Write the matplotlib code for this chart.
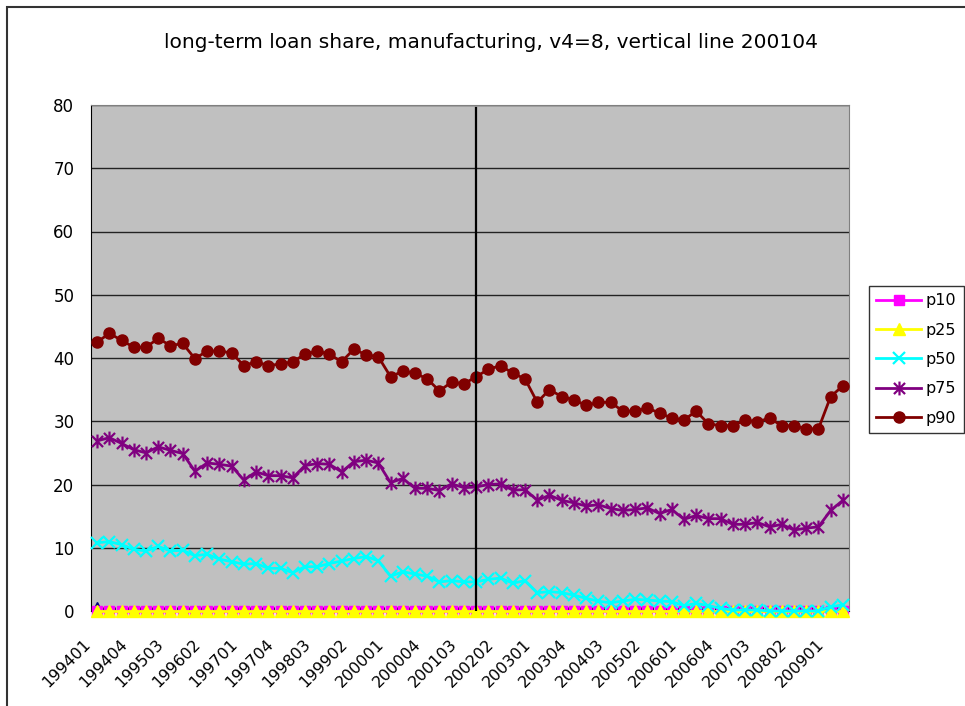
import matplotlib
matplotlib.use("Agg")
import matplotlib.pyplot as plt
from matplotlib.path import Path
from matplotlib.patches import Rectangle
import matplotlib.transforms as mtransforms
import numpy as np

plt.rcParams['font.family'] = ['DejaVu Sans']

# Quarterly categories 199401 .. 200902
quarters = [f"{y}{q:02d}" for y in range(1994, 2010) for q in range(1, 5)][:62]

p10 = [0.0] * 62
p25 = [0.0] * 62
p50 = [10.8, 10.96, 10.5, 9.75, 9.5, 10.2, 9.5, 9.6, 8.75, 8.96,
       8.2, 7.8, 7.4, 7.5, 6.75, 6.75, 6.06, 7.0, 7.0, 7.5,
       7.9, 8.3, 8.6, 7.96, 5.5, 6.2, 5.85, 5.5, 4.6, 4.8,
       4.6, 4.6, 5.0, 5.2, 4.4, 4.8, 2.9, 3.06, 2.9, 2.5,
       2.0, 1.55, 1.3, 1.58, 1.84, 1.74, 1.58, 1.48, 0.84, 1.2,
       0.84, 0.42, 0.16, 0.16, 0.16, 0.0, 0.0, 0.0, 0.0, 0.0,
       0.68, 0.95]
p75 = [26.9, 27.4, 26.5, 25.5, 25.0, 25.95, 25.4, 24.9, 22.1, 23.4,
       23.2, 22.9, 20.7, 22.0, 21.4, 21.4, 21.05, 23.0, 23.3, 23.2,
       22.0, 23.6, 23.85, 23.4, 20.3, 20.95, 19.4, 19.4, 19.05, 20.1,
       19.5, 19.6, 20.0, 20.1, 19.1, 19.2, 17.5, 18.3, 17.5, 17.1,
       16.6, 16.8, 16.2, 15.9, 16.05, 16.3, 15.4, 16.05, 14.5, 15.1,
       14.6, 14.6, 13.7, 13.7, 14.0, 13.3, 13.7, 12.8, 13.1, 13.3,
       15.9, 17.5]
p90 = [42.5, 43.9, 42.8, 41.7, 41.7, 43.1, 41.95, 42.3, 39.9, 41.1,
       41.1, 40.8, 38.8, 39.4, 38.8, 39.05, 39.4, 40.6, 41.1, 40.6,
       39.4, 41.4, 40.5, 40.2, 37.05, 37.9, 37.6, 36.7, 34.8, 36.2,
       35.9, 37.05, 38.2, 38.8, 37.6, 36.7, 33.0, 35.0, 33.9, 33.4,
       32.5, 33.0, 33.0, 31.6, 31.6, 32.1, 31.3, 30.5, 30.2, 31.6,
       29.6, 29.3, 29.3, 30.2, 29.9, 30.5, 29.3, 29.3, 28.8, 28.8,
       33.9, 35.6]
first_extra = [0.8]
vline_quarter = "200104"

x = np.arange(len(quarters))

# asterisk marker: vertical bar plus an X
star = Path([(0, -1), (0, 1), (-0.8, -0.8), (0.8, 0.8), (-0.8, 0.8), (0.8, -0.8)],
            [Path.MOVETO, Path.LINETO, Path.MOVETO, Path.LINETO, Path.MOVETO, Path.LINETO])

fig = plt.figure(figsize=(9.65, 7.06), dpi=100)
W, H = 965, 706
ax = fig.add_axes([91 / W, (H - 611) / H, (849 - 91) / W, (611 - 105) / H])
ax.set_facecolor('#C0C0C0')

# outer chart frame
fig.patches.append(Rectangle((7 / W, -0.05), 1.2, (H - 7) / H + 0.05,
                             transform=fig.transFigure, fill=False,
                             edgecolor='#333333', linewidth=1.5))

for v in range(10, 81, 10):
    ax.axhline(v, color='#222222', linewidth=1.0, zorder=1)

series = [
    ("p10", p10, dict(color='#FF00FF', marker='s', markersize=7)),
    ("p25", p25, dict(color='#FFFF00', marker='^', markersize=9)),
    ("p50", p50, dict(color='#00FFFF', marker='x', markersize=9, markeredgewidth=1.6)),
    ("p75", p75, dict(color='#800080', marker=star, markersize=10, markeredgewidth=1.6)),
    ("p90", p90, dict(color='#800000', marker='o', markersize=8)),
]
for name, vals, style in series:
    ax.plot(x, vals, label=name, linewidth=2, clip_on=False, zorder=3, **style)

ax.plot([0], first_extra, marker='^', color='#000080', markersize=6,
        linestyle='none', zorder=2, clip_on=False, label='_nolegend_')

vx = quarters.index(vline_quarter)
ax.axvline(vx, ymin=0, ymax=0.995, color='black', linewidth=1.6, zorder=4)

ax.set_xlim(-0.5, len(quarters) - 0.5)
ax.set_ylim(0, 80)
ax.set_yticks(range(0, 81, 10))
ax.tick_params(axis='y', length=0, pad=12, labelsize=12)
ax.set_xticks(x[::3])
ax.set_xticklabels(quarters[::3], rotation=45, ha='right', va='center',
                   rotation_mode='anchor', fontsize=11.5)
ax.set_xticks(np.arange(-0.5, len(quarters), 1), minor=True)
ax.tick_params(axis='x', which='major', length=0, pad=22)
ax.tick_params(axis='x', which='minor', length=3, direction='in')
shift = mtransforms.ScaledTranslation(-9 / 100, 0, fig.dpi_scale_trans)
for lbl in ax.get_xticklabels():
    lbl.set_transform(lbl.get_transform() + shift)

for side in ['top', 'right']:
    ax.spines[side].set_color('#808080')
ax.spines['left'].set_color('black')
ax.spines['bottom'].set_color('black')

fig.text(491 / W, 1 - 42 / H,
         "long-term loan share, manufacturing, v4=8, vertical line 200104",
         ha='center', va='center', fontsize=14.5)

leg = ax.legend(loc='upper left', bbox_to_anchor=(869 / W, 1 - 286 / H),
                bbox_transform=fig.transFigure, frameon=True, fancybox=False,
                edgecolor='black', fontsize=11.5, handlelength=2.8,
                borderpad=0.45, borderaxespad=0, labelspacing=0.9,
                handletextpad=0.3)
leg.get_frame().set_linewidth(1.0)

fig.savefig("out.png", dpi=100)
